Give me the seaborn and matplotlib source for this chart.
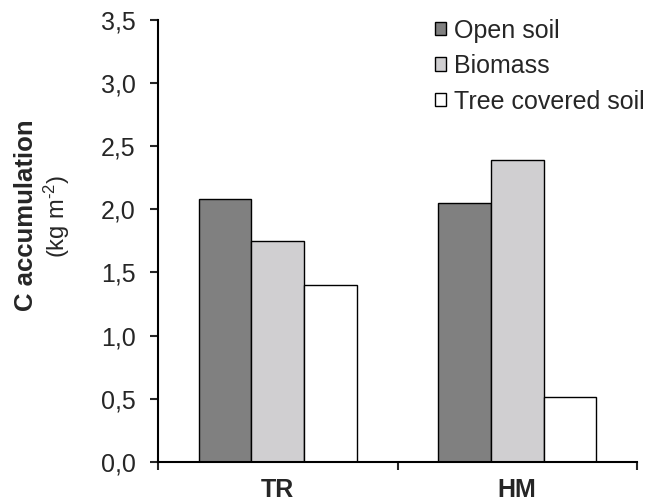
import matplotlib
matplotlib.use("Agg")
import matplotlib.pyplot as plt
import seaborn as sns
import pandas as pd

sites = ["TR", "HM"]
components = ["Open soil", "Biomass", "Tree covered soil"]
open_soil = [2.08, 2.05]
biomass = [1.75, 2.39]
tree_soil = [1.40, 0.51]
yticks = [0.0, 0.5, 1.0, 1.5, 2.0, 2.5, 3.0, 3.5]
colors = ["#808080", "#d0cfd1", "#ffffff"]

df = pd.DataFrame({
    "site": sites * 3,
    "component": [c for c in components for _ in sites],
    "value": open_soil + biomass + tree_soil,
})

sns.set_theme(style="white")
plt.rcParams["font.family"] = ["Liberation Sans", "DejaVu Sans"]
plt.rcParams["mathtext.fontset"] = "custom"
plt.rcParams["mathtext.rm"] = "Liberation Sans"
plt.rcParams["mathtext.it"] = "Liberation Sans:italic"
plt.rcParams["mathtext.bf"] = "Liberation Sans:bold"

fig = plt.figure(figsize=(6.54, 5.04), dpi=100)
ax = fig.add_axes([0.2416, 0.0839, 0.7324, 0.8764])

sns.barplot(data=df, x="site", y="value", hue="component", order=sites,
            hue_order=components, palette=colors, width=0.66, saturation=1,
            edgecolor="black", linewidth=1.0, ax=ax, legend=True)

ax.set_xlim(-0.5, 1.5)
ax.set_ylim(0, 3.5)
ax.set_yticks(yticks)
ax.set_yticklabels([f"{v:.1f}".replace(".", ",") for v in yticks], fontsize=18)
ax.set_xticks([0, 1])
ax.set_xticklabels(sites, fontsize=18, fontweight="bold")
ax.set_xticks([-0.5, 0.5, 1.5], minor=True)
ax.tick_params(axis="x", which="major", length=0, pad=12)
ax.tick_params(axis="x", which="minor", length=6, width=1.5, direction="out", bottom=True)
ax.tick_params(axis="y", length=6, width=1.5, direction="out", left=True, pad=10)
ax.set_xlabel("")
ax.set_ylabel("")

for side in ["top", "right"]:
    ax.spines[side].set_visible(False)
for side in ["left", "bottom"]:
    ax.spines[side].set_color("black")
    ax.spines[side].set_linewidth(1.5)

fig.text(0.040, 0.573, "C accumulation", rotation=90, ha="center", va="center",
         fontsize=18.5, fontweight="bold")
fig.text(0.087, 0.57, r"(kg m$^{\text{-2}}$)", rotation=90, ha="center", va="center",
         fontsize=17)

leg = ax.legend(loc="upper left", bbox_to_anchor=(0.557, 1.026), frameon=False,
                fontsize=18, handlelength=0.45, handleheight=0.45,
                handletextpad=0.3, labelspacing=0.46, borderaxespad=0)
for h in leg.legend_handles:
    h.set_edgecolor("black")
    h.set_linewidth(1.0)

fig.savefig("out.png", dpi=100)
